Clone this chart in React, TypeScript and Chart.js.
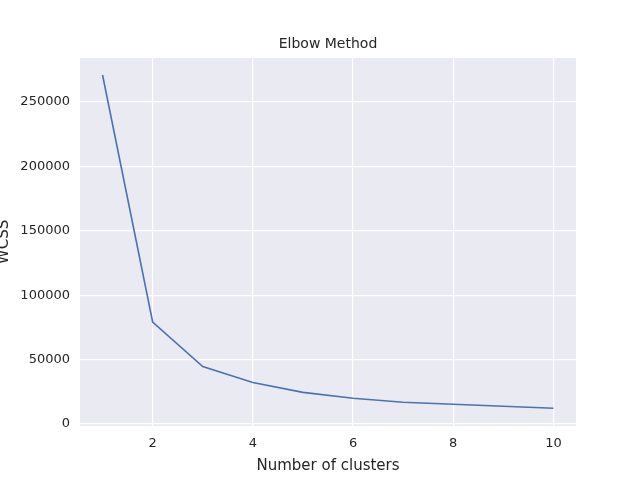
import React, { useEffect, useRef } from "react";
import { Chart, registerables } from "chart.js";
Chart.register(...registerables);

const clusters = [1, 2, 3, 4, 5, 6, 7, 8, 9, 10];
const wcss = [270800, 79200, 44600, 32300, 24600, 20000, 16900, 15400, 13800, 12300];
const xTicks = [2, 4, 6, 8, 10];
const yTicks = [0, 50000, 100000, 150000, 200000, 250000];

const FONT = "'DejaVu Sans', sans-serif";

export default function App() {
  const ref = useRef<HTMLCanvasElement>(null);
  useEffect(() => {
    document.body.style.margin = "0";
    const bg = {
      id: "bg",
      beforeDraw(c: any) {
        const { ctx, chartArea: a } = c;
        ctx.save();
        ctx.fillStyle = "#fff";
        ctx.fillRect(0, 0, c.width, c.height);
        ctx.fillStyle = "#EAEAF2";
        ctx.fillRect(a.left, a.top, a.right - a.left, a.bottom - a.top);
        ctx.restore();
      },
      afterDraw(c: any) {
        const { ctx, chartArea: a } = c;
        ctx.save();
        ctx.fillStyle = "#262626";
        ctx.textAlign = "center";
        ctx.textBaseline = "middle";
        ctx.font = `14px ${FONT}`;
        ctx.fillText("Elbow Method", (a.left + a.right) / 2, 44);
        ctx.font = `15px ${FONT}`;
        ctx.fillText("Number of clusters", (a.left + a.right) / 2, 466);
        ctx.translate(4, (a.top + a.bottom) / 2);
        ctx.rotate(-Math.PI / 2);
        ctx.fillText("WCSS", 0, 0);
        ctx.restore();
      },
    };
    const chart = new Chart(ref.current!, {
      type: "line",
      data: {
        datasets: [
          {
            data: clusters.map((x, i) => ({ x, y: wcss[i] })),
            borderColor: "#4C72B0",
            borderWidth: 1.6,
            pointRadius: 0,
            tension: 0,
          },
        ],
      },
      options: {
        animation: false,
        responsive: false,
        layout: { padding: { top: 58, right: 64, left: 0, bottom: 0 } },
        plugins: { legend: { display: false }, title: { display: false }, tooltip: { enabled: false } },
        scales: {
          x: {
            type: "linear",
            min: 0.55,
            max: 10.45,
            afterBuildTicks: (s: any) => { s.ticks = xTicks.map((v) => ({ value: v })); },
            afterFit: (s: any) => { s.height = 54; },
            grid: { color: "#fff", lineWidth: 1.2, drawTicks: false },
            border: { display: false },
            ticks: { color: "#262626", font: { family: FONT, size: 13 }, padding: 10 },
          },
          y: {
            min: -1475,
            max: 283975,
            afterBuildTicks: (s: any) => { s.ticks = yTicks.map((v) => ({ value: v })); },
            afterFit: (s: any) => { s.width = 80; },
            grid: { color: "#fff", lineWidth: 1.2, drawTicks: false },
            border: { display: false },
            ticks: { color: "#262626", font: { family: FONT, size: 13 }, padding: 10, callback: (v: any) => String(v) },
          },
        },
      },
      plugins: [bg],
    });
    return () => chart.destroy();
  }, []);
  return <canvas ref={ref} width={640} height={480} style={{ display: "block" }} />;
}
